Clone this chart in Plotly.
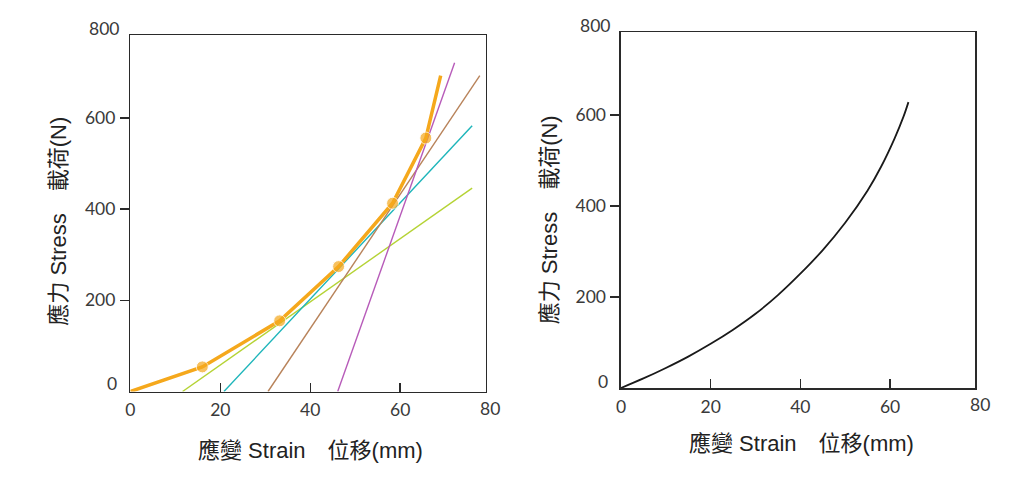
import plotly.graph_objects as go

# ---------------- data ----------------
# left panel: measured points (orange) and tangent lines
meas_x = [0, 16.0, 33.2, 46.3, 58.3, 65.7, 69.0]
meas_y = [0, 54, 155, 274, 413, 556, 693]
meas_marker = [0, 1, 1, 1, 1, 1, 0]

tan_green_x = [11.6, 76.0]
tan_green_y = [0, 446]
tan_teal_x = [20.8, 76.0]
tan_teal_y = [0, 583]
tan_brown_x = [30.6, 77.7]
tan_brown_y = [0, 693]
tan_purple_x = [46.1, 72.1]
tan_purple_y = [0, 721]

# right panel: smooth stress-strain curve
curve_x = [0, 5, 10, 15, 20, 25, 30, 35, 40, 45, 50, 55, 58, 61, 63, 64.1]
curve_y = [0, 21, 44, 69, 97, 128, 163, 204, 251, 303, 363, 434, 486, 548, 596, 628]

# axes / ticks
x_range = [0, 79]
y_range = [0, 782]
x_tickvals = [0, 20, 40, 60]
x_ticktext = ["0", "20", "40", "60"]
x_mark_vals = [20, 40, 60]
x_edge_label = (80, "80")
y_tickvals = [200, 400, 600]
y_ticktext = ["200", "400", "600"]
y_low_label = (0, "0")
y_high_label = (800, "800")

x_title = "應變 Strain\u3000位移(mm)"
y_title = "應力 Stress\u3000載荷(N)"

# ---------------- style ----------------
W, H = 1024, 482
ORANGE = "#F5A81C"
TICK_FONT = dict(family="Lato, Roboto, sans-serif", size=17.5, color="#3a3a3a")
TITLE_FONT = dict(family="Liberation Sans, Noto Sans CJK TC, sans-serif", size=22, color="#222222")
LINE_COLOR = "#2a2a2a"

def px_dom_x(a, b):
    return [a / W, b / W]

def px_dom_y(top, bottom):
    return [1 - bottom / H, 1 - top / H]

fig = go.Figure()

# left panel traces
for xs, ys, col in [
    (tan_green_x, tan_green_y, "#B5D335"),
    (tan_teal_x, tan_teal_y, "#1DB5BA"),
    (tan_brown_x, tan_brown_y, "#B8835A"),
    (tan_purple_x, tan_purple_y, "#B75BB9"),
]:
    fig.add_trace(go.Scatter(x=xs, y=ys, mode="lines", line=dict(color=col, width=1.4),
                             xaxis="x", yaxis="y", showlegend=False, hoverinfo="skip"))

fig.add_trace(go.Scatter(
    x=meas_x, y=meas_y, mode="lines+markers",
    line=dict(color=ORANGE, width=3.5),
    marker=dict(color=ORANGE, size=[12 * m for m in meas_marker]),
    xaxis="x", yaxis="y", showlegend=False, hoverinfo="skip"))

# right panel trace
fig.add_trace(go.Scatter(
    x=curve_x, y=curve_y, mode="lines", line=dict(color="#1a1a1a", width=1.8, shape="spline", smoothing=1.0),
    xaxis="x2", yaxis="y2", showlegend=False, hoverinfo="skip"))

def xaxis_main(dom, anchor):
    return dict(domain=dom, range=x_range, anchor=anchor, showgrid=False, zeroline=False,
                showline=True, mirror=True, linecolor=LINE_COLOR, linewidth=1.5,
                tickmode="array", tickvals=x_tickvals, ticktext=x_ticktext,
                ticks="inside", ticklen=9, tickwidth=1.5, tickcolor=LINE_COLOR,
                tickfont=TICK_FONT, ticklabelstandoff=2, fixedrange=True)

def yaxis_main(dom, anchor):
    return dict(domain=dom, range=y_range, anchor=anchor, showgrid=False, zeroline=False,
                showline=True, mirror=True, linecolor=LINE_COLOR, linewidth=1.5,
                tickmode="array", tickvals=y_tickvals, ticktext=y_ticktext,
                ticks="outside", ticklen=9, tickwidth=1.5, tickcolor=LINE_COLOR,
                tickfont=TICK_FONT, ticklabelstandoff=1, fixedrange=True)

def x_cross(over, anchor):
    return dict(overlaying=over, anchor=anchor, range=x_range, showgrid=False, zeroline=False,
                showline=False, tickmode="array", tickvals=x_mark_vals, showticklabels=False,
                ticks="outside", ticklen=5, tickwidth=1.5, tickcolor=LINE_COLOR, fixedrange=True)

def y_cross(over, anchor):
    return dict(overlaying=over, anchor=anchor, range=y_range, showgrid=False, zeroline=False,
                showline=False, tickmode="array", tickvals=y_tickvals, showticklabels=False,
                ticks="inside", ticklen=5, tickwidth=1.5, tickcolor=LINE_COLOR, fixedrange=True)

L_dx = px_dom_x(126, 483)
L_dy = px_dom_y(35, 391.5)
R_dx = px_dom_x(619, 975)
R_dy = px_dom_y(32, 388)

annotations = []
for xr, yr, y0shift in [("x", "y", 8), ("x2", "y2", 7)]:
    # x-axis end label
    annotations.append(dict(text=x_edge_label[1], xref=f"{xr} domain", yref=f"{yr} domain",
                            x=x_edge_label[0] / x_range[1], y=0, xanchor="center", yanchor="top",
                            yshift=-4, showarrow=False, font=TICK_FONT))
    # y-axis 0 and 800 labels
    annotations.append(dict(text=y_low_label[1], xref=f"{xr} domain", yref=f"{yr} domain",
                            x=0, y=y_low_label[0] / y_range[1], xanchor="right", yanchor="middle",
                            xshift=-11, yshift=y0shift, showarrow=False, font=TICK_FONT))
    annotations.append(dict(text=y_high_label[1], xref=f"{xr} domain", yref=f"{yr} domain",
                            x=0, y=y_high_label[0] / y_range[1], xanchor="right", yanchor="middle",
                            xshift=-9, yshift=-2, showarrow=False, font=TICK_FONT))

# axis titles
for cx, cy in [(306.7, 450), (800.5, 443.5)]:
    annotations.append(dict(text=x_title, xref="paper", yref="paper", x=cx / W, y=1 - cy / H,
                            xanchor="center", yanchor="middle", showarrow=False, font=TITLE_FONT))
for cx, cy in [(54, 221), (548, 220)]:
    annotations.append(dict(text=y_title, xref="paper", yref="paper", x=cx / W, y=1 - cy / H,
                            xanchor="center", yanchor="middle", textangle=-90,
                            showarrow=False, font=TITLE_FONT))

fig.update_layout(
    width=W, height=H, margin=dict(l=0, r=0, t=0, b=0),
    paper_bgcolor="white", plot_bgcolor="white",
    xaxis=xaxis_main(L_dx, "y"),
    yaxis=yaxis_main(L_dy, "x"),
    xaxis2=xaxis_main(R_dx, "y2"),
    yaxis2=yaxis_main(R_dy, "x2"),
    xaxis3=x_cross("x", "y"),
    yaxis3=y_cross("y", "x"),
    xaxis4=x_cross("x2", "y2"),
    yaxis4=y_cross("y2", "x2"),
    annotations=annotations,
    showlegend=False,
)

fig.write_html("out.html", config={"displayModeBar": False, "staticPlot": True})
